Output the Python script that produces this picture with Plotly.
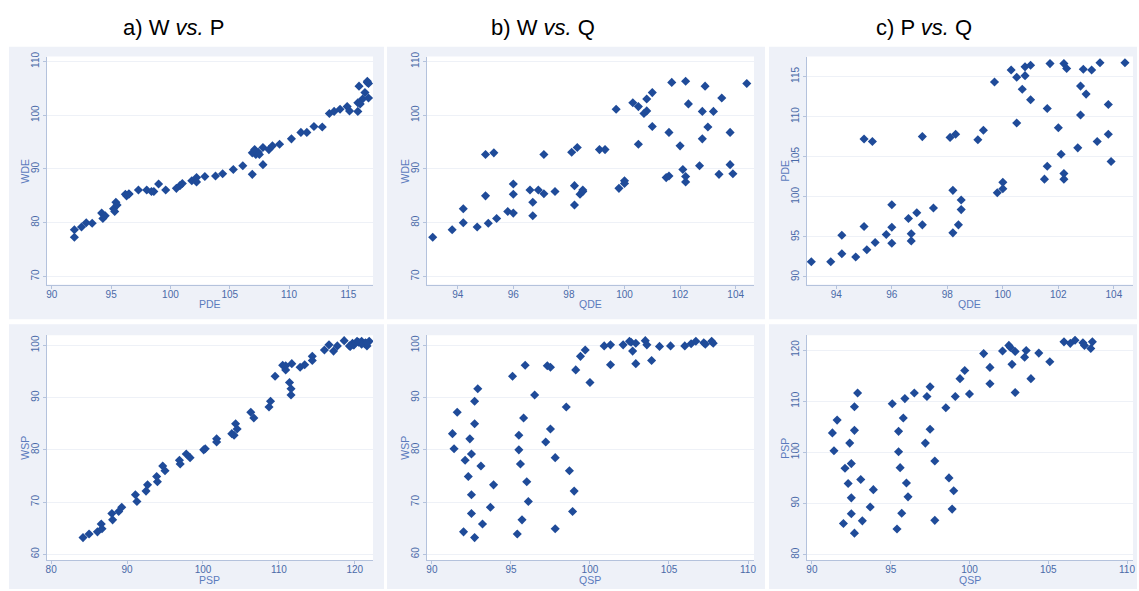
import plotly.graph_objects as go

# ---------------- data ----------------
# Germany (DE): one entry per observation
QDE = [93.1, 93.8, 94.2, 94.2, 94.7, 95.0, 95.3, 95.0, 95.1, 95.4, 95.8, 96.0, 96.0, 96.0,
       96.6, 96.7, 96.7, 96.9, 97.1, 97.1, 97.5, 98.1, 98.3, 98.2, 98.2, 98.4, 98.5, 98.5,
       99.1, 99.3, 99.7, 99.8, 100.0, 100.0, 100.3, 100.5, 100.5, 100.7, 100.8, 100.8,
       101.0, 101.0, 101.6, 101.6, 101.7, 101.5, 102.0, 102.1, 102.2, 102.2, 102.2, 102.3,
       102.7, 102.8, 102.8, 102.9, 103.0, 103.2, 103.4, 103.5, 103.8, 103.8, 103.9, 104.4]
WDE = [77.3, 78.7, 82.6, 80.0, 79.2, 92.7, 93.0, 85.0, 79.9, 80.8, 82.1, 87.2, 85.3, 81.8,
       86.1, 83.8, 81.3, 86.1, 85.4, 92.7, 85.8, 93.1, 94.0, 86.9, 83.3, 85.3, 85.8, 86.1,
       93.6, 93.6, 101.1, 86.4, 87.8, 87.3, 102.3, 101.6, 94.6, 100.3, 100.8, 103.0,
       104.2, 97.9, 96.8, 88.7, 106.1, 88.4, 94.3, 89.9, 106.3, 88.6, 87.6, 102.1,
       90.6, 95.6, 100.7, 105.4, 97.8, 100.7, 89.0, 103.2, 96.8, 90.8, 89.1, 105.9]
PDE = [91.9, 91.9, 95.2, 92.9, 92.5, 107.2, 106.9, 96.3, 93.4, 94.3, 95.3, 99.0, 96.2, 94.2,
       97.3, 95.4, 94.5, 98.0, 96.5, 107.5, 98.6, 107.4, 107.8, 100.8, 95.5, 96.5, 98.4, 99.6,
       107.1, 108.3, 114.3, 100.5, 101.8, 101.0, 115.8, 114.9, 109.2, 113.4, 115.1, 116.2,
       116.4, 112.1, 111.0, 103.8, 116.6, 102.2, 108.6, 105.3, 116.6, 102.9, 102.2, 116.0,
       106.1, 110.2, 113.8, 115.9, 112.8, 115.8, 106.9, 116.7, 111.5, 107.8, 104.4, 116.7]

# Spain (SP): one entry per observation
QSP = [91.3, 91.4, 91.6, 92.0, 92.1, 92.3, 92.4, 92.5, 92.5, 92.5, 92.7, 92.7, 92.7, 92.9,
       93.1, 93.2, 93.7, 93.9, 95.1, 95.4, 95.5, 95.5, 95.6, 95.7, 95.8, 95.9, 96.0, 96.1,
       96.5, 97.2, 97.3, 97.5, 97.5, 97.8, 97.8, 98.5, 98.7, 99.0, 98.9, 99.1, 99.4, 99.7,
       100.0, 100.9, 101.3, 101.3, 102.1, 102.5, 102.6, 102.7, 102.9, 102.9, 103.5, 103.6,
       103.9, 104.4, 105.1, 106.0, 106.4, 106.7, 107.2, 107.3, 107.7, 107.8]
WSP = [83.1, 80.2, 87.2, 64.3, 78.0, 74.9, 82.1, 79.2, 71.4, 67.8, 63.2, 89.3, 85.0, 91.7,
       76.9, 65.8, 69.0, 73.3, 94.1, 63.9, 82.8, 80.0, 77.3, 66.6, 86.1, 96.2, 73.9, 70.1,
       90.5, 81.5, 96.1, 95.8, 84.0, 78.5, 64.9, 88.2, 76.0, 72.1, 68.2, 95.3, 97.9, 99.1,
       92.9, 99.9, 100.1, 96.3, 100.1, 100.8, 100.6, 98.9, 100.4, 96.5, 100.9, 100.1,
       97.1, 99.8, 99.9, 99.9, 100.3, 100.8, 100.5, 100.2, 100.8, 100.4]
PSP = [103.8, 100.3, 106.3, 86.1, 96.9, 93.9, 101.8, 97.8, 91.1, 88.0, 84.2, 108.9, 104.3, 111.6,
       94.7, 86.6, 89.3, 92.7, 109.5, 85.0, 104.1, 100.1, 97.0, 88.1, 106.7, 110.5, 94.0, 91.3,
       111.6, 101.8, 110.9, 112.8, 104.5, 98.3, 86.7, 108.7, 95.0, 92.5, 88.9, 110.9, 114.4, 116.0,
       111.4, 119.3, 116.6, 113.4, 119.8, 120.9, 120.5, 117.2, 119.7, 111.7, 118.6, 119.9,
       114.4, 119.4, 117.7, 121.6, 121.3, 121.9, 121.4, 120.9, 120.3, 121.6]

panel_titles = ["a) W <i>vs.</i> P", "b) W <i>vs.</i> Q", "c) P <i>vs.</i> Q"]

# panels: (x data, y data, x title, y title, x ticks, y ticks, x range, y range)
panels = [
    (PDE, WDE, "PDE", "WDE", [90, 95, 100, 105, 110, 115], [70, 80, 90, 100, 110], [89.58, 117.08], [68.5, 110.9]),
    (QDE, WDE, "QDE", "WDE", [94, 96, 98, 100, 102, 104], [70, 80, 90, 100, 110], [92.89, 104.66], [68.5, 110.9]),
    (QDE, PDE, "QDE", "PDE", [94, 96, 98, 100, 102, 104], [90, 95, 100, 105, 110, 115], [92.94, 104.69], [89.05, 117.48]),
    (PSP, WSP, "PSP", "WSP", [80, 90, 100, 110, 120], [60, 70, 80, 90, 100], [79.44, 122.4], [58.86, 101.95]),
    (QSP, WSP, "QSP", "WSP", [90, 95, 100, 105, 110], [60, 70, 80, 90, 100], [89.68, 110.38], [58.86, 101.95]),
    (QSP, PSP, "QSP", "PSP", [90, 95, 100, 105, 110], [80, 90, 100, 110, 120], [89.68, 110.38], [78.9, 122.9]),
]

# ---------------- layout geometry (pixels) ----------------
W, H = 1139, 591
plot_cols = [(46, 373), (427, 755), (808, 1135)]
plot_rows = [(52, 282), (333, 560)]
bg_cols = [(8, 384), (387, 766), (770, 1139)]
bg_rows = [(42, 317), (322, 589)]
title_x = [173, 543, 925]
xtitle_y = [302, 580]
ytitle_dx = 22

MARK = "#1f4b99"
TICKC = "#4a6aa8"
TITLEC = "#5b7bbd"
LINEC = "#b4c2dc"
GRIDC = "#eef1f7"
PANELBG = "#eef1f8"
FONT = "Liberation Sans, Arial, sans-serif"

fig = go.Figure()
layout = dict(
    width=W, height=H, margin=dict(l=0, r=0, t=0, b=0),
    paper_bgcolor="white", plot_bgcolor="white", showlegend=False,
    font=dict(family=FONT, size=10, color=TICKC),
    shapes=[], annotations=[],
)

for i, (xd, yd, xt, yt, xtv, ytv, xr, yr) in enumerate(panels):
    r, c = divmod(i, 3)
    n = "" if i == 0 else str(i + 1)
    x0, x1 = plot_cols[c]
    y0, y1 = plot_rows[r]
    fig.add_trace(go.Scatter(
        x=xd, y=yd, mode="markers", xaxis="x" + n, yaxis="y" + n,
        marker=dict(symbol="diamond", size=7, color=MARK, line=dict(width=0)),
        hoverinfo="x+y",
    ))
    layout["xaxis" + n] = dict(
        domain=[x0 / W, x1 / W], anchor="y" + n, range=xr, tickvals=xtv,
        showline=True, linecolor=LINEC, linewidth=1, mirror=False,
        ticks="outside", ticklen=3, tickcolor=LINEC, showgrid=False, zeroline=False,
        tickfont=dict(size=10, color=TICKC), ticklabelstandoff=-3,
    )
    layout["yaxis" + n] = dict(
        domain=[1 - y1 / H, 1 - y0 / H], anchor="x" + n, range=yr, tickvals=ytv,
        showline=True, linecolor=LINEC, linewidth=1, mirror=False,
        ticks="outside", ticklen=3, tickcolor=LINEC, showgrid=True, gridcolor=GRIDC,
        gridwidth=1, zeroline=False, tickangle=-90,
        tickfont=dict(size=10, color=TICKC),
    )
    # axis titles as annotations for precise placement
    layout["annotations"].append(dict(
        text=xt, x=(x0 + x1) / 2 / W, y=1 - xtitle_y[r] / H, xref="paper", yref="paper",
        xanchor="center", yanchor="middle", showarrow=False,
        font=dict(family=FONT, size=10.5, color=TITLEC)))
    layout["annotations"].append(dict(
        text=yt, x=(x0 - ytitle_dx) / W, y=1 - (y0 + y1) / 2 / H, xref="paper", yref="paper",
        xanchor="center", yanchor="middle", showarrow=False, textangle=-90,
        font=dict(family=FONT, size=10.5, color=TITLEC)))

# panel backgrounds
for (ry0, ry1) in bg_rows:
    for (cx0, cx1) in bg_cols:
        layout["shapes"].append(dict(
            type="rect", xref="paper", yref="paper", layer="below",
            x0=cx0 / W, x1=cx1 / W, y0=1 - ry1 / H, y1=1 - ry0 / H,
            fillcolor=PANELBG, line=dict(width=0)))
for (ry0, ry1) in plot_rows:
    for (cx0, cx1) in plot_cols:
        layout["shapes"].append(dict(
            type="rect", xref="paper", yref="paper", layer="below",
            x0=cx0 / W, x1=cx1 / W, y0=1 - ry1 / H, y1=1 - ry0 / H,
            fillcolor="white", line=dict(width=0)))

for c, t in enumerate(panel_titles):
    layout["annotations"].append(dict(
        text=t, x=title_x[c] / W, y=1 - 23 / H, xref="paper", yref="paper",
        xanchor="center", yanchor="middle", showarrow=False,
        font=dict(family=FONT, size=22, color="black")))

fig.update_layout(**layout)
fig.write_html("out.html")
